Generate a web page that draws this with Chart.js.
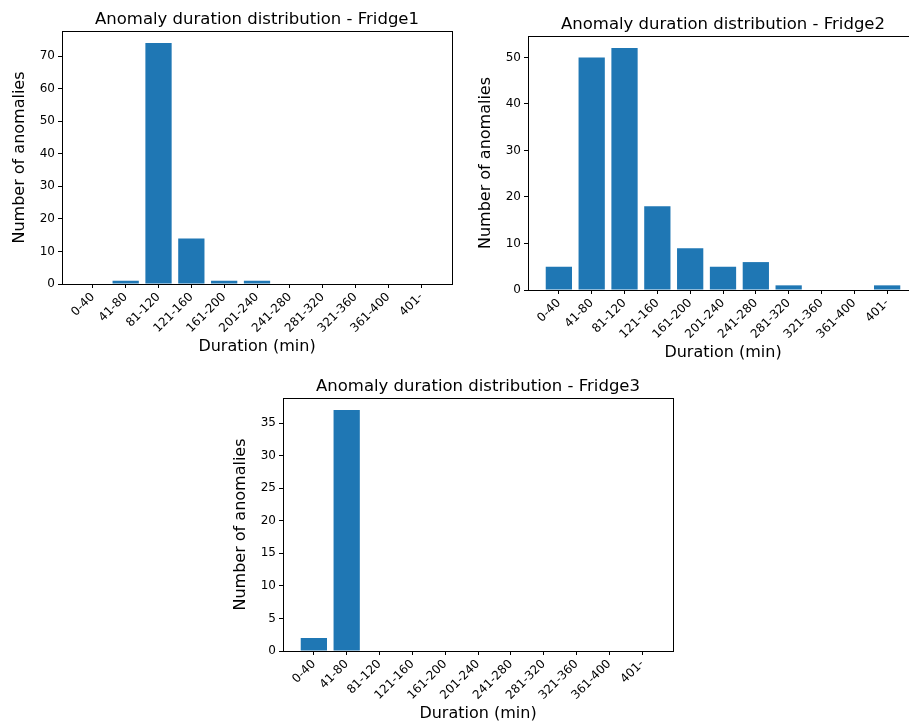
<!DOCTYPE html>
<html>
<head>
<meta charset="utf-8">
<script src="https://cdn.jsdelivr.net/npm/chart.js@4.4.0/dist/chart.umd.min.js"></script>
<style>
html, body { margin: 0; padding: 0; background: #fff; overflow: hidden; width: 909px; height: 726px; position: relative; }
canvas { position: absolute; }
</style>
</head>
<body>
<canvas id="c1"></canvas>
<canvas id="c2"></canvas>
<canvas id="c3"></canvas>
<script>
// ---- data ----
const durationBins = ['0-40', '41-80', '81-120', '121-160', '161-200', '201-240', '241-280', '281-320', '321-360', '361-400', '401-'];
const fridge1Counts = [0, 1, 74, 14, 1, 1, 0, 0, 0, 0, 0];
const fridge2Counts = [5, 50, 52, 18, 9, 5, 6, 1, 0, 0, 1];
const fridge3Counts = [2, 37, 0, 0, 0, 0, 0, 0, 0, 0, 0];
const fridge1YTicks = [0, 10, 20, 30, 40, 50, 60, 70];
const fridge2YTicks = [0, 10, 20, 30, 40, 50];
const fridge3YTicks = [0, 5, 10, 15, 20, 25, 30, 35];
const chartTitles = ['Anomaly duration distribution - Fridge1', 'Anomaly duration distribution - Fridge2', 'Anomaly duration distribution - Fridge3'];
const xAxisLabel = 'Duration (min)';
const yAxisLabel = 'Number of anomalies';

// ---- layout (page pixel positions of each plot area) ----
const Y_AXIS_W = 62, TITLE_H = 31, X_AXIS_H = 79, RIGHT_PAD = 8;
const panels = [
  { id: 'c1', title: chartTitles[0], counts: fridge1Counts, yTicks: fridge1YTicks, yMax: 77.7, plot: [62, 31, 452, 284] },
  { id: 'c2', title: chartTitles[1], counts: fridge2Counts, yTicks: fridge2YTicks, yMax: 54.6, plot: [528, 36, 918, 290] },
  { id: 'c3', title: chartTitles[2], counts: fridge3Counts, yTicks: fridge3YTicks, yMax: 38.85, plot: [283, 398, 673, 651] }
];

const FONT = "'DejaVu Sans', sans-serif";
const TEXT = '#000';
const BAR = '#1f77b4';

const spines = {
  id: 'spines',
  afterDatasetsDraw(chart) {
    const { ctx, chartArea: a } = chart;
    ctx.save();
    ctx.strokeStyle = '#000';
    ctx.lineWidth = 1;
    ctx.strokeRect(a.left + 0.5, a.top + 0.5, a.right - a.left, a.bottom - a.top);
    ctx.restore();
  }
};

panels.forEach(p => {
  const [L, T, R, B] = p.plot;
  const cv = document.getElementById(p.id);
  const w = R - L + Y_AXIS_W + RIGHT_PAD;
  const h = B - T + TITLE_H + X_AXIS_H;
  cv.width = w; cv.height = h;
  cv.style.width = w + 'px'; cv.style.height = h + 'px';
  cv.style.left = (L - Y_AXIS_W) + 'px';
  cv.style.top = (T - TITLE_H) + 'px';

  new Chart(cv, {
    type: 'bar',
    data: {
      datasets: [{
        data: p.counts.map((v, i) => ({ x: i, y: v })),
        backgroundColor: BAR,
        borderWidth: 0,
        inflateAmount: 0,
        barPercentage: 0.8,
        categoryPercentage: 1.0
      }]
    },
    options: {
      responsive: false,
      animation: false,
      devicePixelRatio: 1,
      layout: { padding: { left: 0, top: 0, right: RIGHT_PAD, bottom: 0 } },
      plugins: {
        legend: { display: false },
        tooltip: { enabled: false },
        title: {
          display: true,
          text: p.title,
          fullSize: false,
          color: TEXT,
          font: { family: FONT, size: 16.5, weight: 'normal', lineHeight: 1 },
          padding: { top: 11, bottom: 3.5 }
        }
      },
      scales: {
        x: {
          type: 'linear',
          offset: false,
          min: -0.94,
          max: 10.94,
          afterBuildTicks: s => { s.ticks = durationBins.map((_, i) => ({ value: i })); },
          afterFit: s => { s.height = X_AXIS_H; },
          ticks: {
            autoSkip: false,
            minRotation: 45,
            maxRotation: 45,
            padding: 2,
            color: TEXT,
            font: { family: FONT, size: 12 },
            callback: v => durationBins[v] ?? ''
          },
          grid: { offset: false, drawOnChartArea: false, drawTicks: true, tickLength: 4, tickColor: '#000', color: '#000', lineWidth: 1 },
          border: { display: false },
          title: {
            display: true,
            text: xAxisLabel,
            color: TEXT,
            font: { family: FONT, size: 16, weight: 'normal', lineHeight: 1 },
            padding: { top: 0, bottom: 8.5 }
          }
        },
        y: {
          type: 'linear',
          min: 0,
          max: p.yMax,
          afterBuildTicks: s => { s.ticks = p.yTicks.map(v => ({ value: v })); },
          afterFit: s => { s.width = Y_AXIS_W; },
          ticks: {
            padding: 3,
            color: TEXT,
            font: { family: FONT, size: 12 }
          },
          grid: { drawOnChartArea: false, drawTicks: true, tickLength: 4, tickColor: '#000', color: '#000', lineWidth: 1 },
          border: { display: false },
          title: {
            display: true,
            text: yAxisLabel,
            color: TEXT,
            font: { family: FONT, size: 16, weight: 'normal', lineHeight: 1 },
            padding: { top: 11.5, bottom: 0 }
          }
        }
      }
    },
    plugins: [spines]
  });
});
</script>
</body>
</html>
